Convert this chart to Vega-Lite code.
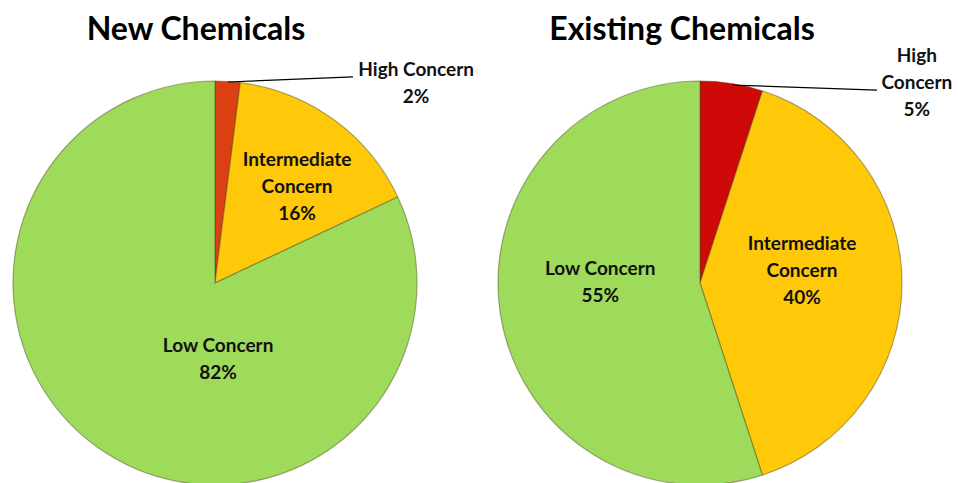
{
  "$schema": "https://vega.github.io/schema/vega-lite/v6.json",
  "background": "white",
  "padding": {"left": 0, "top": 13, "right": 0, "bottom": 0},
  "bounds": "flush",
  "spacing": 20,
  "resolve": {"scale": {"color": "independent", "theta": "independent"}},
  "config": {
    "view": {"stroke": null},
    "title": {"font": "Lato", "fontSize": 32, "fontWeight": "bold", "color": "#000000", "anchor": "middle", "frame": "group"},
    "text": {"font": "Lato", "fontSize": 19, "fontWeight": "bold", "lineHeight": 27, "lineBreak": "|", "color": "#111111", "align": "center", "baseline": "middle"}
  },
  "hconcat": [
    {
      "width": 430,
      "height": 404,
      "title": {"text": "New Chemicals", "dx": -19, "offset": 14},
      "data": {"values": [
        {"category": "High Concern", "name": "High Concern", "pct": 2},
        {"category": "Intermediate Concern", "name": "Intermediate|Concern", "pct": 16},
        {"category": "Low Concern", "name": "Low Concern", "pct": 82}
      ]},
      "transform": [{"calculate": "datum.name + '|' + datum.pct + '%'", "as": "label"}],
      "layer": [
        {
          "mark": {"type": "arc", "stroke": "#4a4a1c", "strokeOpacity": 0.45, "strokeWidth": 1.2},
          "encoding": {
            "theta": {"field": "pct", "type": "quantitative", "stack": true},
            "color": {"field": "category", "type": "nominal", "legend": null,
              "scale": {"domain": ["High Concern", "Intermediate Concern", "Low Concern"], "range": ["#DB4010", "#FFC90A", "#9EDB5B"]}}
          }
        },
        {
          "mark": {"type": "text", "radius": 126, "dx": 8, "dy": -21},
          "encoding": {
            "theta": {"field": "pct", "type": "quantitative", "stack": true},
            "detail": {"field": "category", "type": "nominal"},
            "text": {"condition": {"test": "datum.category === 'Intermediate Concern'", "field": "label"}, "value": ""}
          }
        },
        {
          "mark": {"type": "text", "radius": 80, "dx": 46, "dy": -5},
          "encoding": {
            "theta": {"field": "pct", "type": "quantitative", "stack": true},
            "detail": {"field": "category", "type": "nominal"},
            "text": {"condition": {"test": "datum.category === 'Low Concern'", "field": "label"}, "value": ""}
          }
        },
        {
          "mark": {"type": "text", "radius": 225, "dx": 187, "dy": 12},
          "encoding": {
            "theta": {"field": "pct", "type": "quantitative", "stack": true},
            "detail": {"field": "category", "type": "nominal"},
            "text": {"condition": {"test": "datum.category === 'High Concern'", "field": "label"}, "value": ""}
          }
        },
        {
          "transform": [{"filter": "datum.category === 'High Concern'"}],
          "mark": {"type": "point", "shape": "M0.064,-0.995L0.683,-1.02", "size": 163216, "filled": false, "stroke": "#000000", "strokeWidth": 1.2, "opacity": 1},
          "encoding": {}
        }
      ]
    },
    {
      "width": 500,
      "height": 404,
      "title": {"text": "Existing Chemicals", "dx": -18, "offset": 0},
      "data": {"values": [
        {"category": "High Concern", "name": "High|Concern", "pct": 5},
        {"category": "Intermediate Concern", "name": "Intermediate|Concern", "pct": 40},
        {"category": "Low Concern", "name": "Low Concern", "pct": 55}
      ]},
      "transform": [{"calculate": "datum.name + '|' + datum.pct + '%'", "as": "label"}],
      "layer": [
        {
          "mark": {"type": "arc", "stroke": "#4a4a1c", "strokeOpacity": 0.45, "strokeWidth": 1.2},
          "encoding": {
            "theta": {"field": "pct", "type": "quantitative", "stack": true},
            "color": {"field": "category", "type": "nominal", "legend": null,
              "scale": {"domain": ["High Concern", "Intermediate Concern", "Low Concern"], "range": ["#CF0808", "#FFC90A", "#9EDB5B"]}}
          }
        },
        {
          "mark": {"type": "text", "radius": 102, "dx": 0, "dy": -39},
          "encoding": {
            "theta": {"field": "pct", "type": "quantitative", "stack": true},
            "detail": {"field": "category", "type": "nominal"},
            "text": {"condition": {"test": "datum.category === 'Intermediate Concern'", "field": "label"}, "value": ""}
          }
        },
        {
          "mark": {"type": "text", "radius": 100, "dx": -1, "dy": -30},
          "encoding": {
            "theta": {"field": "pct", "type": "quantitative", "stack": true},
            "detail": {"field": "category", "type": "nominal"},
            "text": {"condition": {"test": "datum.category === 'Low Concern'", "field": "label"}, "value": ""}
          }
        },
        {
          "mark": {"type": "text", "radius": 210, "dx": 184, "dy": -20},
          "encoding": {
            "theta": {"field": "pct", "type": "quantitative", "stack": true},
            "detail": {"field": "category", "type": "nominal"},
            "text": {"condition": {"test": "datum.category === 'High Concern'", "field": "label"}, "value": ""}
          }
        },
        {
          "transform": [{"filter": "datum.category === 'High Concern'"}],
          "mark": {"type": "point", "shape": "M0.163,-0.98L0.876,-0.955", "size": 163216, "filled": false, "stroke": "#000000", "strokeWidth": 1.2, "opacity": 1},
          "encoding": {}
        }
      ]
    }
  ]
}
